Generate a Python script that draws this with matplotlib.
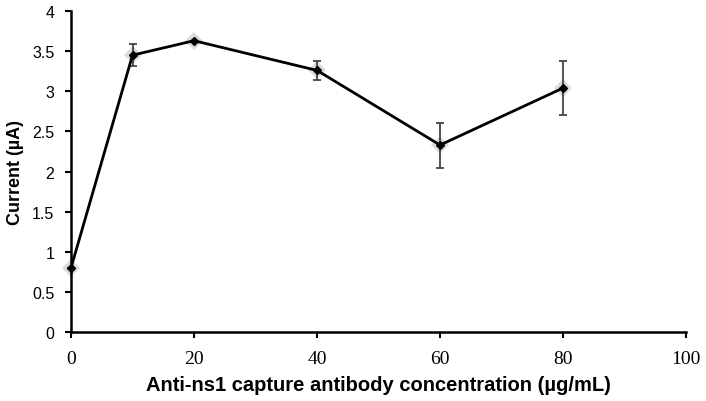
import matplotlib
matplotlib.use("Agg")
import matplotlib.pyplot as plt

conc = [0, 10, 20, 40, 60, 80]
current = [0.80, 3.45, 3.63, 3.26, 2.33, 3.04]
err = [0.0, 0.14, 0.0, 0.12, 0.28, 0.34]

fig = plt.figure(figsize=(7.06, 4.02), dpi=100)
ax = fig.add_axes([0.1006, 0.1716, 0.8711, 0.7985])

# soft grey halo behind the markers
ax.plot(conc, current, ls="none", marker="D", ms=9, color="#999999",
        alpha=0.35, mew=0, zorder=2, clip_on=False)
ax.errorbar(conc, current, yerr=err, color="black", lw=2, marker="D", ms=4.5,
            ecolor="#444444", elinewidth=1.3, capsize=3, capthick=1.3,
            zorder=3, clip_on=False)

ax.set_xlim(0, 100)
ax.set_ylim(0, 4)
ax.set_xticks([0, 20, 40, 60, 80, 100])
ax.set_yticks([0, 0.5, 1, 1.5, 2, 2.5, 3, 3.5, 4])
ax.set_yticklabels(["0", "0.5", "1", "1.5", "2", "2.5", "3", "3.5", "4"],
                   family="Liberation Sans", fontsize=11.5)
ax.set_xticklabels(["0", "20", "40", "60", "80", "100"],
                   family="Liberation Serif", fontsize=14)
ax.spines["top"].set_visible(False)
ax.spines["right"].set_visible(False)
ax.spines["left"].set_linewidth(1.8)
ax.spines["bottom"].set_linewidth(1.8)
ax.tick_params(direction="out", length=4, width=1.5)
ax.tick_params(axis="y", pad=8)
ax.tick_params(axis="x", pad=9)

ax.set_xlabel("Anti-ns1 capture antibody concentration (µg/mL)",
              family="Liberation Sans", fontweight="bold", fontsize=14.5,
              labelpad=6)
ax.set_ylabel("Current (µA)", family="Liberation Sans", fontweight="bold",
              fontsize=13, labelpad=6)

fig.savefig("out.png", dpi=100)
